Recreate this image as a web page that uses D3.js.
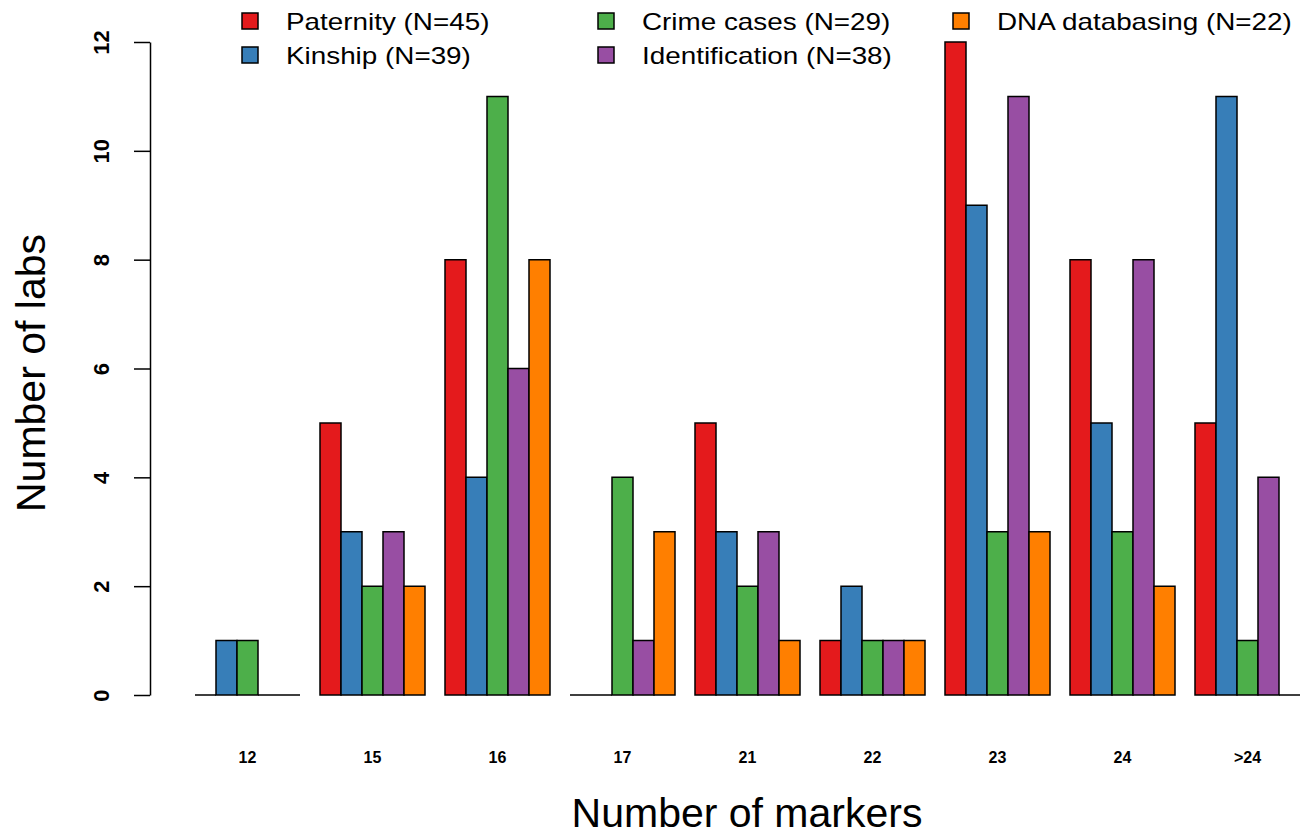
<!DOCTYPE html>
<html>
<head>
<meta charset="utf-8">
<script src="https://cdn.jsdelivr.net/npm/d3@7"></script>
<style>
  body { margin: 0; background: #fff; }
  text { font-family: "Liberation Sans", Arial, sans-serif; }
</style>
</head>
<body>
<div id="chart"></div>
<script>
// Labs per number of STR markers, by application
const markers = ["12", "15", "16", "17", "21", "22", "23", "24", ">24"];
const seriesNames = ["Paternity", "Kinship", "Crime cases", "Identification", "DNA databasing"];
const seriesLabels = [
  "Paternity (N=45)",
  "Kinship (N=39)",
  "Crime cases (N=29)",
  "Identification (N=38)",
  "DNA databasing (N=22)",
];
const paternity = [0, 5, 8, 0, 5, 1, 12, 8, 5];
const kinship = [1, 3, 4, 0, 3, 2, 9, 5, 11];
const crimeCases = [1, 2, 11, 4, 2, 1, 3, 3, 1];
const identification = [0, 3, 6, 1, 3, 1, 11, 8, 4];
const dnaDatabasing = [0, 2, 8, 3, 1, 1, 3, 2, 0];
const yTicks = [0, 2, 4, 6, 8, 10, 12];

const seriesValues = [paternity, kinship, crimeCases, identification, dnaDatabasing];
const colors = ["#E41A1C", "#377EB8", "#4DAF4A", "#984EA3", "#FF7F00"];

const width = 1307;
const height = 835;

const svg = d3
  .select("#chart")
  .append("svg")
  .attr("width", width)
  .attr("height", height);

// Scales
const x0 = d3
  .scaleBand()
  .domain(markers)
  .range([185, 1310])
  .paddingInner(0.16)
  .paddingOuter(0.08);

const x1 = d3
  .scaleBand()
  .domain(seriesNames)
  .range([0, x0.bandwidth()]);

const y = d3.scaleLinear().domain([0, 12]).range([695, 42]);

const color = d3.scaleOrdinal().domain(seriesNames).range(colors);

// flatten into one row per bar
const bars = [];
markers.forEach((m, i) => {
  seriesNames.forEach((s, j) => {
    bars.push({ marker: m, series: s, value: seriesValues[j][i] });
  });
});

// ---- BARS ---- (paths so zero-height bars still draw their outline)
svg
  .append("g")
  .selectAll("path")
  .data(bars)
  .join("path")
  .attr("d", (d) => {
    const bx = x0(d.marker) + x1(d.series);
    const bw = x1.bandwidth();
    const top = y(d.value);
    const base = y(0);
    return `M${bx},${base}V${top}H${bx + bw}V${base}Z`;
  })
  .attr("fill", (d) => color(d.series))
  .attr("stroke", "#000")
  .attr("stroke-width", 1.5)
  .attr("stroke-linejoin", "miter");

// ---- Y AXIS ----
const yAxis = svg
  .append("g")
  .attr("transform", "translate(150,0)")
  .call(d3.axisLeft(y).tickValues(yTicks).tickSize(16).tickSizeOuter(0).tickPadding(0).tickFormat(d3.format("d")));

yAxis.select(".domain").attr("stroke", "#000").attr("stroke-width", 1.5);
yAxis.selectAll(".tick line").attr("stroke", "#000").attr("stroke-width", 1.5);
yAxis
  .selectAll(".tick text")
  .attr("x", null)
  .attr("dy", null)
  .attr("transform", "translate(-47,0) rotate(-90)")
  .attr("text-anchor", "middle")
  .attr("dominant-baseline", "middle")
  .attr("font-size", 22)
  .attr("font-weight", "bold")
  .attr("fill", "#000");

// ---- X LABELS ----
svg
  .append("g")
  .selectAll("text")
  .data(markers)
  .join("text")
  .attr("x", (d) => x0(d) + x0.bandwidth() / 2)
  .attr("y", 763)
  .attr("text-anchor", "middle")
  .attr("font-size", 16)
  .attr("font-weight", "bold")
  .text((d) => d);

// Axis titles
svg
  .append("text")
  .attr("x", 747)
  .attr("y", 827)
  .attr("text-anchor", "middle")
  .attr("font-size", 41)
  .text("Number of markers");

svg
  .append("text")
  .attr("transform", "translate(45,373) rotate(-90)")
  .attr("text-anchor", "middle")
  .attr("font-size", 41)
  .text("Number of labs");

// ---- LEGEND ---- (3 columns, filled by column like R)
const legendX = [242, 598, 953];
const legendY = [13, 47];

const legend = svg
  .append("g")
  .selectAll("g")
  .data(seriesLabels)
  .join("g")
  .attr("transform", (d, i) => `translate(${legendX[Math.floor(i / 2)]},${legendY[i % 2]})`);

legend
  .append("rect")
  .attr("width", 16)
  .attr("height", 16)
  .attr("fill", (d, i) => colors[i])
  .attr("stroke", "#000")
  .attr("stroke-width", 1.5);

legend
  .append("text")
  .attr("transform", "translate(44,17) scale(1.16,1)")
  .attr("font-size", 24)
  .text((d) => d);
</script>
</body>
</html>
